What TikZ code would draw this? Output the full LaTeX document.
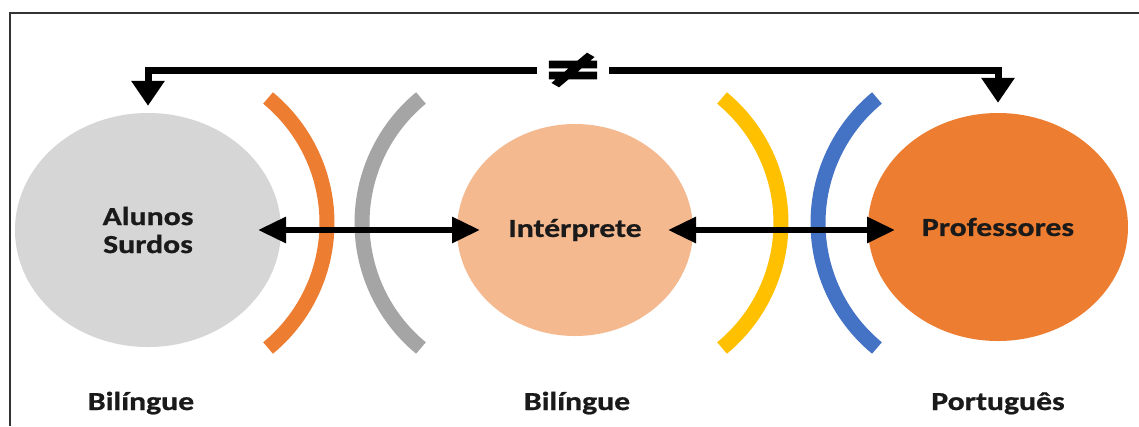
\documentclass[tikz,border=0pt]{standalone}
\usepackage{fontspec}
\usetikzlibrary{arrows.meta,shapes.geometric}
\newfontfamily\lblfont{Carlito}[FakeStretch=1.22,FakeBold=0.8]
\newfontfamily\symfont{DejaVu Sans}[FakeBold=4]
\definecolor{cgrayfill}{HTML}{D6D6D6}
\definecolor{cpeach}{HTML}{F5B990}
\definecolor{corange}{HTML}{ED7D31}
\definecolor{cgrayarc}{HTML}{A5A5A5}
\definecolor{cyellow}{HTML}{FFC000}
\definecolor{cblue}{HTML}{4472C4}
\definecolor{cframe}{HTML}{333333}
\definecolor{ctext}{HTML}{1A1A1A}
\begin{document}
\begin{tikzpicture}[x=1bp,y=-1bp,
  frame/.style={draw=cframe,line width=2bp},
  arcband/.style={line width=15bp},
  blob/.style={ellipse,inner sep=0pt,text=ctext,align=center,
    font=\lblfont\bfseries\fontsize{26bp}{28bp}\selectfont},
  lbl/.style={anchor=base,text=ctext,inner sep=0pt,
    font=\lblfont\bfseries\fontsize{26bp}{28bp}\selectfont},
  dbl/.style={line width=6bp,
    {Triangle[length=28bp,width=25bp]}-{Triangle[length=28bp,width=25bp]}},
  toparrow/.style={line width=7bp,line join=miter,-{Triangle[length=25bp,width=32bp]}}
]
\useasboundingbox (0,0) rectangle (1139,426);
\fill[white] (0,0) rectangle (1139,426);
\draw[frame] (10,426) -- (10,13) -- (1139,13);

% arcs
\draw[arcband,draw=corange] ([shift={(-50.5:162)}]165,223) arc[start angle=-50.5,end angle=50.5,radius=162];
\draw[arcband,draw=cgrayarc] ([shift={(129.5:162)}]524,223) arc[start angle=129.5,end angle=230.5,radius=162];
\draw[arcband,draw=cyellow] ([shift={(-50.5:162)}]619,223) arc[start angle=-50.5,end angle=50.5,radius=162];
\draw[arcband,draw=cblue] ([shift={(129.5:162)}]980,223) arc[start angle=129.5,end angle=230.5,radius=162];

% ellipses
\node[blob,fill=cgrayfill,minimum width=266bp,minimum height=234bp] (alunos) at (148,230) {Alunos\\Surdos};
\node[blob,fill=cpeach,minimum width=236bp,minimum height=212bp] (interp) at (575,230) {Intérprete};
\node[blob,fill=corange,minimum width=260bp,minimum height=228bp] (prof) at (998,227) {Professores};

% bottom labels
\node[lbl] (l1) at (141,410) {Bilíngue};
\node[lbl] (l2) at (577,410) {Bilíngue};
\node[lbl] (l3) at (998,410) {Português};

% double arrows
\draw[dbl] ([xshift=110bp]alunos.center) -- ([xshift=-95bp]interp.center);
\draw[dbl] ([xshift=93bp]interp.center) -- ([xshift=-103bp]interp.center -| prof.center);

% top connector with not-equal sign
\node[inner sep=0pt,minimum width=72bp,minimum height=20bp,text=black] (neq) at (573,70)
  {\symfont\bfseries\fontsize{50bp}{50bp}\selectfont\scalebox{1.45}[1]{≠}};
\draw[toparrow] (neq.west) -| ([yshift=7bp]alunos.north);
\draw[toparrow] (neq.east) -| ([yshift=10bp]prof.north);
\end{tikzpicture}
\end{document}
